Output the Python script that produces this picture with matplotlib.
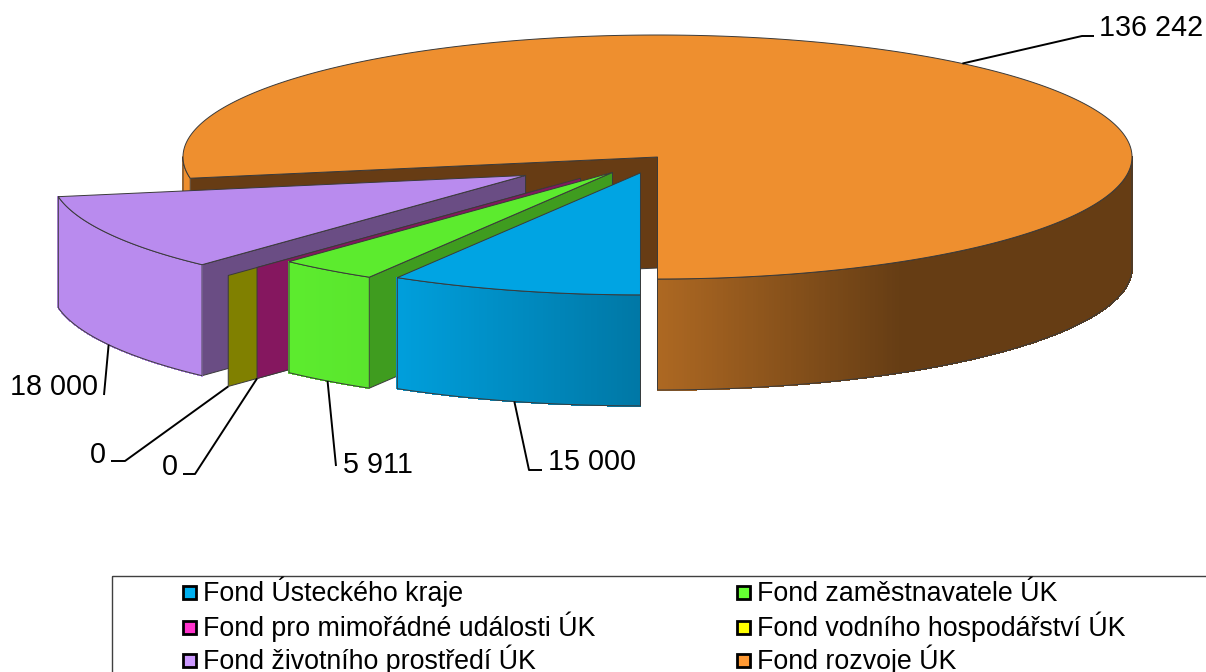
import numpy as np
import matplotlib
matplotlib.use('AGG')
import matplotlib.pyplot as plt
from matplotlib.collections import PolyCollection
from matplotlib.patches import Polygon, Rectangle

plt.rcParams['font.family'] = ['Liberation Sans', 'DejaVu Sans']

# values, in legend order
names = ['Fond Ústeckého kraje', 'Fond zaměstnavatele ÚK',
         'Fond pro mimořádné události ÚK', 'Fond vodního hospodářství ÚK',
         'Fond životního prostředí ÚK', 'Fond rozvoje ÚK']
values = [15000, 5911, 0, 0, 18000, 136242]
value_labels = ['15 000', '5 911', '0', '0', '18 000', '136 242']
legend_colors = ['#00B0F0', '#66FF33', '#FF33CC', '#FFFF00', '#CC99FF', '#FF9933']
top_colors = ['#00A4E3', '#5CEB2E', '#85175F', '#808000', '#B98BEE', '#EE8F2F']
face_colors = ['#006C98', '#3F9C1F', '#85175F', '#808000', '#6A4D84', '#673C14']
explode = [0.135, 0.158, 0.238, 0.327, 0.3165, 0.0]

# pie geometry in pixels
cx, cy = 657.5, 157.0
rx, ry = 474.5, 122.0
depth = 111.0
edge = '#3a3a3a'


def rim(c, t, r=1.0):
    # t in degrees, 0 is the bottom of the pie, growing counter clockwise on screen
    a = np.radians(t)
    return c[0] + r * rx * np.sin(a), c[1] + r * ry * np.cos(a)


def shade(x):
    # the side walls get darker from left to right
    return np.interp(x, [300, 397, 640, 657, 900], [1.0, 0.97, 0.73, 0.73, 0.43])


def draw_side(ax, c, t0, t1, color):
    ts = np.linspace(t0, t1, max(int(t1 - t0) * 3, 2))
    xs, ys = rim(c, ts)
    base = np.array(matplotlib.colors.to_rgb(color))
    quads = []
    cols = []
    for i in range(len(ts) - 1):
        quads.append([(xs[i], ys[i]), (xs[i + 1], ys[i + 1]),
                      (xs[i + 1], ys[i + 1] + depth), (xs[i], ys[i] + depth)])
        cols.append(base * shade((xs[i] + xs[i + 1]) / 2))
    ax.add_collection(PolyCollection(quads, facecolors=cols, edgecolors=cols,
                                     linewidths=0.6, antialiaseds=False))
    outline = list(zip(xs, ys)) + list(zip(xs[::-1], ys[::-1] + depth))
    ax.add_patch(Polygon(outline, closed=True, fill=False, edgecolor=edge, linewidth=0.7))


def draw_slice(ax, i, t0, t1):
    a = (t0 + t1) / 2
    c = rim((cx, cy), a, explode[i])
    # cut face that looks at the viewer
    px, py = rim(c, t1)
    ax.add_patch(Polygon([c, (px, py), (px, py + depth), (c[0], c[1] + depth)], closed=True,
                         facecolor=face_colors[i], edgecolor=edge, linewidth=0.7))
    if t1 <= t0:
        return
    # outer wall, front half only
    for lo, hi in [(t0, min(t1, 90)), (max(t0, 270), t1)]:
        if hi > lo:
            draw_side(ax, c, lo, hi, top_colors[i])
    ts = np.linspace(t0, t1, 400)
    xs, ys = rim(c, ts)
    ax.add_patch(Polygon([c] + list(zip(xs, ys)), closed=True,
                         facecolor=top_colors[i], edgecolor=edge, linewidth=0.7))


fig = plt.figure(figsize=(12.06, 6.72), dpi=100)
ax = fig.add_axes([0, 0, 1, 1])
ax.set_xlim(0, 1206)
ax.set_ylim(672, 0)
ax.axis('off')

# angles: first slice ends at the bottom, the others go on clockwise from it
total = sum(values)
sweeps = [v / total * 360 for v in values]
ends = 360 - np.cumsum([0] + sweeps[:-1])
starts = ends - np.array(sweeps)

# back to front
for i in [5, 4, 3, 2, 1, 0]:
    draw_slice(ax, i, starts[i], ends[i])

# leader lines and value labels: elbow and text position per slice
elbows = [[(529, 470), (542, 470)], [(336, 466)], [(195, 474), (183, 474)],
          [(125, 461), (111, 461)], [(104, 395)], [(1082, 36), (1094, 36)]]
label_pos = [(548, 470), (343, 473), (162, 475), (90, 463), (10, 395), (1099, 36)]
for i in range(6):
    a = (starts[i] + ends[i]) / 2
    c = rim((cx, cy), a, explode[i])
    sx, sy = rim(c, a)
    if i != 5:
        sy += depth
    pts = [(sx, sy)] + elbows[i]
    ax.plot([p[0] for p in pts], [p[1] for p in pts], color='black', lw=1.4, zorder=5,
            solid_capstyle='butt')
    ax.text(label_pos[i][0], label_pos[i][1], value_labels[i], fontsize=20.7,
            ha='left', va='baseline', color='black', zorder=6)

# legend
ax.add_patch(Rectangle((111.5, 575.5), 1200, 200, fill=False, edgecolor='#404040', linewidth=1.0))
legend_rows = [601, 636, 669]
legend_cols = [183, 737]
for i, name in enumerate(names):
    col_x = legend_cols[i % 2]
    row_y = legend_rows[i // 2]
    ax.add_patch(Rectangle((col_x, row_y - 15), 13, 13, facecolor=legend_colors[i],
                           edgecolor='black', linewidth=2.0))
    ax.text(col_x + 20, row_y, name, fontsize=19.3, ha='left', va='baseline', color='black')

fig.savefig('out.png', dpi=100)
